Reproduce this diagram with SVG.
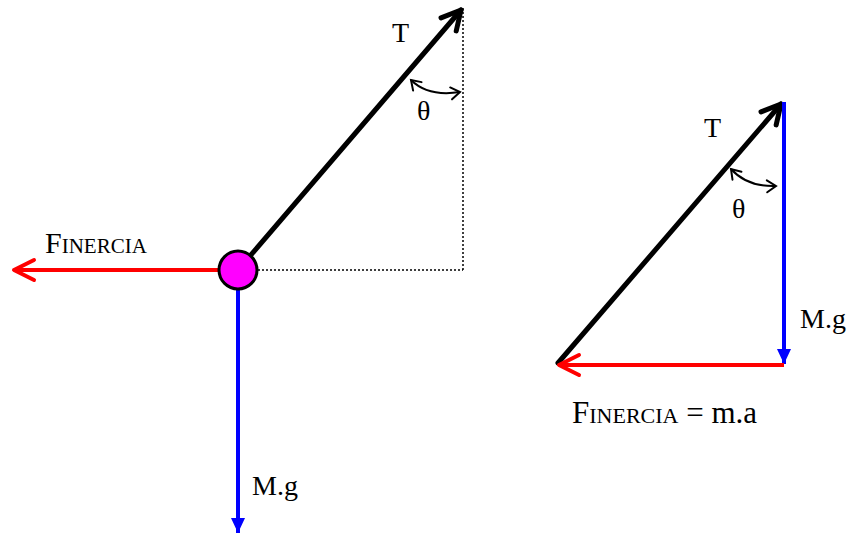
<svg xmlns="http://www.w3.org/2000/svg" width="849" height="535" viewBox="0 0 849 535">
<style>
.txt{font-family:"Liberation Serif","Times New Roman",serif;fill:#000}
.big{font-size:28px}
.th{font-size:28px}
.blk{stroke:#000;stroke-width:5;fill:none;stroke-linecap:round}
.red{stroke:#F00;stroke-width:4;fill:none}
.blu{stroke:#00F;stroke-width:4;fill:none}
.dot{stroke:#000;stroke-width:1.5;stroke-dasharray:2,2;fill:none}
.arc{stroke:#000;stroke-width:2;fill:none}
</style>
<defs>
<marker id="chevK" markerUnits="userSpaceOnUse" orient="auto" refX="0" refY="0" markerWidth="30" markerHeight="30" overflow="visible">
<path d="M-19,-10 L0,0 L-19,10" fill="none" stroke="#000" stroke-width="5" stroke-linecap="round" stroke-linejoin="round"/>
</marker>
<marker id="chevR" markerUnits="userSpaceOnUse" orient="auto" refX="0" refY="0" markerWidth="30" markerHeight="30" overflow="visible">
<path d="M-20,-10 L0,0 L-20,10" fill="none" stroke="#F00" stroke-width="4" stroke-linecap="round" stroke-linejoin="round"/>
</marker>
<marker id="triB" markerUnits="userSpaceOnUse" orient="auto" refX="0" refY="0" markerWidth="30" markerHeight="30" overflow="visible">
<path d="M-15,-7 L0,0 L-15,7 z" fill="#00F"/>
</marker>
<marker id="arcH" markerUnits="userSpaceOnUse" orient="auto-start-reverse" refX="0" refY="0" markerWidth="20" markerHeight="20" overflow="visible">
<path d="M-9,-6 L0,0 L-9,6" fill="none" stroke="#000" stroke-width="2" stroke-linecap="round"/>
</marker>
</defs>
<g id="connectors">
<line class="dot" x1="238" y1="270" x2="463" y2="270"/>
<line class="dot" x1="463" y1="8" x2="463" y2="270"/>
<line class="blk" x1="238" y1="270" x2="461" y2="10" marker-end="url(#chevK)"/>
<line class="red" x1="238" y1="270" x2="14" y2="270" marker-end="url(#chevR)"/>
<line class="blu" x1="238" y1="288" x2="238" y2="533" marker-end="url(#triB)"/>
<path class="arc" d="M411,80 Q428,97 460,92" marker-start="url(#arcH)" marker-end="url(#arcH)"/>
<line class="blk" x1="558" y1="363" x2="781" y2="104" marker-end="url(#chevK)"/>
<line class="blu" x1="784" y1="102" x2="784" y2="364" marker-end="url(#triB)"/>
<line class="red" x1="784" y1="365" x2="559" y2="365" marker-end="url(#chevR)"/>
<path class="arc" d="M731,169 Q747,187 776,186" marker-start="url(#arcH)" marker-end="url(#arcH)"/>
</g>
<g id="mass">
<circle cx="238" cy="270" r="19" fill="#F0F" stroke="#000" stroke-width="3"/>
</g>
<g id="labels-left">
<text class="txt big" x="392" y="42">T</text>
<text class="txt th" x="417" y="120">θ</text>
<text class="txt" x="45" y="253"><tspan font-size="30">F</tspan><tspan font-size="21">INERCIA</tspan></text>
<text class="txt big" x="252" y="495">M.g</text>
</g>
<g id="labels-right">
<text class="txt big" x="704" y="137">T</text>
<text class="txt th" x="732" y="218">θ</text>
<text class="txt big" x="800" y="328">M.g</text>
<text class="txt" x="572" y="423"><tspan font-size="31">F</tspan><tspan font-size="22">INERCIA</tspan><tspan font-size="31"> = m.a</tspan></text>
</g>
</svg>
